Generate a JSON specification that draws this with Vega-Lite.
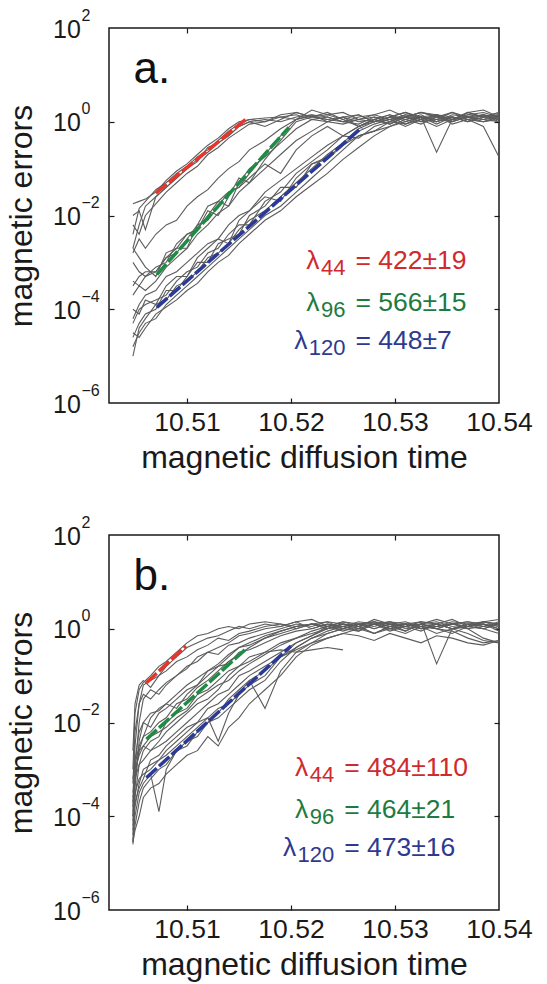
{
"$schema": "https://vega.github.io/schema/vega-lite/v6.json",
"background": "white",
"padding": {"left": 4, "top": 6, "right": 4, "bottom": 4},
"spacing": 132,
"bounds": "flush",
"config": {"font": "Liberation Sans", "view": {"stroke": "#1a1a1a", "strokeWidth": 1.5}, "axis": {"labelColor": "#1a1a1a", "titleColor": "#1a1a1a", "tickColor": "#1a1a1a", "tickWidth": 1.2}},
"datasets": {
"a": [
{"c":"a1","x":10.5048,"y":0.00398},{"c":"a1","x":10.5054,"y":0.0141},{"c":"a1","x":10.506,"y":0.02},{"c":"a1","x":10.507,"y":0.0355},{"c":"a1","x":10.508,"y":0.05},{"c":"a1","x":10.509,"y":0.079},{"c":"a1","x":10.51,"y":0.112},{"c":"a1","x":10.511,"y":0.178},{"c":"a1","x":10.512,"y":0.251},{"c":"a1","x":10.513,"y":0.398},{"c":"a1","x":10.514,"y":0.631},{"c":"a1","x":10.515,"y":0.891},{"c":"a1","x":10.516,"y":1.12},{"c":"a1","x":10.5175,"y":1.2},{"c":"a1","x":10.519,"y":1.26},{"c":"a1","x":10.5205,"y":1.12},{"c":"a1","x":10.522,"y":1.32},{"c":"a1","x":10.5235,"y":1.12},{"c":"a1","x":10.525,"y":1},{"c":"a1","x":10.5265,"y":1.26},{"c":"a1","x":10.528,"y":1.41},{"c":"a1","x":10.5295,"y":1.12},{"c":"a1","x":10.531,"y":1.26},{"c":"a1","x":10.5325,"y":1.58},{"c":"a1","x":10.534,"y":1.32},{"c":"a1","x":10.5355,"y":1.12},{"c":"a1","x":10.537,"y":1.41},{"c":"a1","x":10.5385,"y":1.58},{"c":"a1","x":10.54,"y":1.26},
{"c":"a2","x":10.5048,"y":0.01},{"c":"a2","x":10.5054,"y":0.0126},{"c":"a2","x":10.506,"y":0.005},{"c":"a2","x":10.507,"y":0.0251},{"c":"a2","x":10.508,"y":0.0398},{"c":"a2","x":10.509,"y":0.063},{"c":"a2","x":10.51,"y":0.1},{"c":"a2","x":10.511,"y":0.141},{"c":"a2","x":10.512,"y":0.282},{"c":"a2","x":10.513,"y":0.355},{"c":"a2","x":10.514,"y":0.5},{"c":"a2","x":10.515,"y":0.794},{"c":"a2","x":10.516,"y":1},{"c":"a2","x":10.5175,"y":1.12},{"c":"a2","x":10.519,"y":1},{"c":"a2","x":10.5205,"y":1.26},{"c":"a2","x":10.522,"y":1.41},{"c":"a2","x":10.5235,"y":1},{"c":"a2","x":10.525,"y":0.891},{"c":"a2","x":10.5265,"y":1.12},{"c":"a2","x":10.528,"y":1},{"c":"a2","x":10.5295,"y":1.26},{"c":"a2","x":10.531,"y":1.58},{"c":"a2","x":10.5325,"y":1.26},{"c":"a2","x":10.534,"y":1.41},{"c":"a2","x":10.5355,"y":1},{"c":"a2","x":10.537,"y":1.26},{"c":"a2","x":10.5385,"y":1.12},{"c":"a2","x":10.54,"y":1.41},
{"c":"a3","x":10.5048,"y":0.0178},{"c":"a3","x":10.5054,"y":0.02},{"c":"a3","x":10.506,"y":0.0224},{"c":"a3","x":10.507,"y":0.0316},{"c":"a3","x":10.508,"y":0.056},{"c":"a3","x":10.509,"y":0.089},{"c":"a3","x":10.51,"y":0.126},{"c":"a3","x":10.511,"y":0.2},{"c":"a3","x":10.512,"y":0.316},{"c":"a3","x":10.513,"y":0.447},{"c":"a3","x":10.514,"y":0.708},{"c":"a3","x":10.515,"y":1},{"c":"a3","x":10.516,"y":1.12},{"c":"a3","x":10.5175,"y":1},{"c":"a3","x":10.519,"y":1.26},{"c":"a3","x":10.5205,"y":1.41},{"c":"a3","x":10.522,"y":1.12},{"c":"a3","x":10.5235,"y":1.26},{"c":"a3","x":10.525,"y":1},{"c":"a3","x":10.5265,"y":0.891},{"c":"a3","x":10.528,"y":1.26},{"c":"a3","x":10.5295,"y":1.12},{"c":"a3","x":10.531,"y":0.794},{"c":"a3","x":10.5325,"y":1.12},{"c":"a3","x":10.534,"y":1.41},{"c":"a3","x":10.5355,"y":1.26},{"c":"a3","x":10.537,"y":1},{"c":"a3","x":10.5385,"y":1.26},{"c":"a3","x":10.54,"y":1.58},
{"c":"a4","x":10.5048,"y":0.002},{"c":"a4","x":10.5054,"y":0.0063},{"c":"a4","x":10.506,"y":0.0158},{"c":"a4","x":10.507,"y":0.0251},{"c":"a4","x":10.508,"y":0.0398},{"c":"a4","x":10.509,"y":0.063},{"c":"a4","x":10.51,"y":0.1},{"c":"a4","x":10.511,"y":0.158},{"c":"a4","x":10.512,"y":0.224},{"c":"a4","x":10.513,"y":0.355},{"c":"a4","x":10.514,"y":0.5},{"c":"a4","x":10.515,"y":0.794},{"c":"a4","x":10.516,"y":1},{"c":"a4","x":10.5175,"y":0.794},{"c":"a4","x":10.519,"y":1.12},{"c":"a4","x":10.5205,"y":1.58},{"c":"a4","x":10.522,"y":1.26},{"c":"a4","x":10.5235,"y":1.12},{"c":"a4","x":10.525,"y":1.26},{"c":"a4","x":10.5265,"y":1},{"c":"a4","x":10.528,"y":1.12},{"c":"a4","x":10.5295,"y":1.41},{"c":"a4","x":10.531,"y":1},{"c":"a4","x":10.5325,"y":1.26},{"c":"a4","x":10.534,"y":0.224},{"c":"a4","x":10.5355,"y":1.12},{"c":"a4","x":10.537,"y":1.26},{"c":"a4","x":10.5385,"y":1.41},{"c":"a4","x":10.54,"y":1.12},
{"c":"a5","x":10.5048,"y":3.16e-4},{"c":"a5","x":10.5054,"y":5e-4},{"c":"a5","x":10.506,"y":6.3e-4},{"c":"a5","x":10.507,"y":6.3e-4},{"c":"a5","x":10.508,"y":0.00126},{"c":"a5","x":10.509,"y":0.00158},{"c":"a5","x":10.51,"y":0.00316},{"c":"a5","x":10.511,"y":0.0063},{"c":"a5","x":10.512,"y":0.0079},{"c":"a5","x":10.513,"y":0.0158},{"c":"a5","x":10.514,"y":0.0316},{"c":"a5","x":10.515,"y":0.04},{"c":"a5","x":10.516,"y":0.079},{"c":"a5","x":10.5175,"y":0.2},{"c":"a5","x":10.519,"y":0.5},{"c":"a5","x":10.5205,"y":1.12},{"c":"a5","x":10.522,"y":1.41},{"c":"a5","x":10.5235,"y":1.26},{"c":"a5","x":10.525,"y":1},{"c":"a5","x":10.5265,"y":1.12},{"c":"a5","x":10.528,"y":1.26},{"c":"a5","x":10.5295,"y":1},{"c":"a5","x":10.531,"y":1.41},{"c":"a5","x":10.5325,"y":1.26},{"c":"a5","x":10.534,"y":1.12},{"c":"a5","x":10.5355,"y":1.26},{"c":"a5","x":10.537,"y":1},{"c":"a5","x":10.5385,"y":1.26},{"c":"a5","x":10.54,"y":1.41},
{"c":"a6","x":10.5048,"y":0.001},{"c":"a6","x":10.5054,"y":6.3e-4},{"c":"a6","x":10.506,"y":5e-4},{"c":"a6","x":10.507,"y":7.9e-4},{"c":"a6","x":10.508,"y":0.001},{"c":"a6","x":10.509,"y":0.0025},{"c":"a6","x":10.51,"y":0.004},{"c":"a6","x":10.511,"y":0.005},{"c":"a6","x":10.512,"y":0.0126},{"c":"a6","x":10.513,"y":0.01},{"c":"a6","x":10.514,"y":0.025},{"c":"a6","x":10.515,"y":0.063},{"c":"a6","x":10.516,"y":0.05},{"c":"a6","x":10.5175,"y":0.158},{"c":"a6","x":10.519,"y":0.4},{"c":"a6","x":10.5205,"y":1},{"c":"a6","x":10.522,"y":1.26},{"c":"a6","x":10.5235,"y":1.58},{"c":"a6","x":10.525,"y":1.12},{"c":"a6","x":10.5265,"y":0.794},{"c":"a6","x":10.528,"y":1.12},{"c":"a6","x":10.5295,"y":1.41},{"c":"a6","x":10.531,"y":1.12},{"c":"a6","x":10.5325,"y":0.891},{"c":"a6","x":10.534,"y":1.26},{"c":"a6","x":10.5355,"y":1.58},{"c":"a6","x":10.537,"y":1.26},{"c":"a6","x":10.5385,"y":1},{"c":"a6","x":10.54,"y":1.12},
{"c":"a7","x":10.5048,"y":0.002},{"c":"a7","x":10.5054,"y":0.00126},{"c":"a7","x":10.506,"y":7.9e-4},{"c":"a7","x":10.507,"y":5e-4},{"c":"a7","x":10.508,"y":0.0016},{"c":"a7","x":10.509,"y":0.002},{"c":"a7","x":10.51,"y":0.002},{"c":"a7","x":10.511,"y":0.0063},{"c":"a7","x":10.512,"y":0.0158},{"c":"a7","x":10.513,"y":0.02},{"c":"a7","x":10.514,"y":0.0158},{"c":"a7","x":10.515,"y":0.05},{"c":"a7","x":10.516,"y":0.1},{"c":"a7","x":10.5175,"y":0.178},{"c":"a7","x":10.519,"y":0.355},{"c":"a7","x":10.5205,"y":0.708},{"c":"a7","x":10.522,"y":1.12},{"c":"a7","x":10.5235,"y":1},{"c":"a7","x":10.525,"y":1.26},{"c":"a7","x":10.5265,"y":1.41},{"c":"a7","x":10.528,"y":1},{"c":"a7","x":10.5295,"y":1.12},{"c":"a7","x":10.531,"y":1.26},{"c":"a7","x":10.5325,"y":1.58},{"c":"a7","x":10.534,"y":1.41},{"c":"a7","x":10.5355,"y":1.12},{"c":"a7","x":10.537,"y":1.26},{"c":"a7","x":10.5385,"y":1.41},{"c":"a7","x":10.54,"y":1},
{"c":"a8","x":10.5048,"y":3.98e-4},{"c":"a8","x":10.5054,"y":3.16e-4},{"c":"a8","x":10.506,"y":5e-4},{"c":"a8","x":10.507,"y":6.3e-4},{"c":"a8","x":10.508,"y":0.00126},{"c":"a8","x":10.509,"y":0.002},{"c":"a8","x":10.51,"y":0.00398},{"c":"a8","x":10.511,"y":0.005},{"c":"a8","x":10.512,"y":0.01},{"c":"a8","x":10.513,"y":0.02},{"c":"a8","x":10.514,"y":0.0316},{"c":"a8","x":10.515,"y":0.0398},{"c":"a8","x":10.516,"y":0.063},{"c":"a8","x":10.5175,"y":0.126},{"c":"a8","x":10.519,"y":0.079},{"c":"a8","x":10.5205,"y":0.251},{"c":"a8","x":10.522,"y":0.5},{"c":"a8","x":10.5235,"y":0.794},{"c":"a8","x":10.525,"y":0.5},{"c":"a8","x":10.5265,"y":0.794},{"c":"a8","x":10.528,"y":1.12},{"c":"a8","x":10.5295,"y":0.891},{"c":"a8","x":10.531,"y":1.26},{"c":"a8","x":10.5325,"y":1.12},{"c":"a8","x":10.534,"y":1},{"c":"a8","x":10.5355,"y":1.26},{"c":"a8","x":10.537,"y":1.12},{"c":"a8","x":10.5385,"y":0.794},{"c":"a8","x":10.54,"y":0.178},
{"c":"a9","x":10.5048,"y":1e-5},{"c":"a9","x":10.5054,"y":3.98e-5},{"c":"a9","x":10.506,"y":6.3e-5},{"c":"a9","x":10.507,"y":1.26e-4},{"c":"a9","x":10.508,"y":1.58e-4},{"c":"a9","x":10.509,"y":3.16e-4},{"c":"a9","x":10.51,"y":3.98e-4},{"c":"a9","x":10.511,"y":6.3e-4},{"c":"a9","x":10.512,"y":0.00126},{"c":"a9","x":10.513,"y":0.00158},{"c":"a9","x":10.514,"y":0.00251},{"c":"a9","x":10.515,"y":0.005},{"c":"a9","x":10.516,"y":0.0079},{"c":"a9","x":10.5175,"y":0.0126},{"c":"a9","x":10.519,"y":0.0251},{"c":"a9","x":10.5205,"y":0.05},{"c":"a9","x":10.522,"y":0.1},{"c":"a9","x":10.5235,"y":0.2},{"c":"a9","x":10.525,"y":0.355},{"c":"a9","x":10.5265,"y":0.708},{"c":"a9","x":10.528,"y":1},{"c":"a9","x":10.5295,"y":1.26},{"c":"a9","x":10.531,"y":1.12},{"c":"a9","x":10.5325,"y":1.41},{"c":"a9","x":10.534,"y":1},{"c":"a9","x":10.5355,"y":1.26},{"c":"a9","x":10.537,"y":1.12},{"c":"a9","x":10.5385,"y":1.41},{"c":"a9","x":10.54,"y":1.26},
{"c":"a10","x":10.5048,"y":2.51e-5},{"c":"a10","x":10.5054,"y":5e-5},{"c":"a10","x":10.506,"y":7.9e-5},{"c":"a10","x":10.507,"y":1e-4},{"c":"a10","x":10.508,"y":2.51e-4},{"c":"a10","x":10.509,"y":2.51e-4},{"c":"a10","x":10.51,"y":5e-4},{"c":"a10","x":10.511,"y":0.001},{"c":"a10","x":10.512,"y":0.001},{"c":"a10","x":10.513,"y":0.00251},{"c":"a10","x":10.514,"y":0.00316},{"c":"a10","x":10.515,"y":0.00398},{"c":"a10","x":10.516,"y":0.01},{"c":"a10","x":10.5175,"y":0.0158},{"c":"a10","x":10.519,"y":0.0398},{"c":"a10","x":10.5205,"y":0.0398},{"c":"a10","x":10.522,"y":0.126},{"c":"a10","x":10.5235,"y":0.158},{"c":"a10","x":10.525,"y":0.316},{"c":"a10","x":10.5265,"y":0.631},{"c":"a10","x":10.528,"y":0.891},{"c":"a10","x":10.5295,"y":1.12},{"c":"a10","x":10.531,"y":1.41},{"c":"a10","x":10.5325,"y":1.12},{"c":"a10","x":10.534,"y":0.794},{"c":"a10","x":10.5355,"y":1.12},{"c":"a10","x":10.537,"y":1.41},{"c":"a10","x":10.5385,"y":1.26},{"c":"a10","x":10.54,"y":1.58},
{"c":"a11","x":10.5048,"y":5e-5},{"c":"a11","x":10.5054,"y":1e-4},{"c":"a11","x":10.506,"y":1.26e-4},{"c":"a11","x":10.507,"y":1.58e-4},{"c":"a11","x":10.508,"y":2e-4},{"c":"a11","x":10.509,"y":3.98e-4},{"c":"a11","x":10.51,"y":6.3e-4},{"c":"a11","x":10.511,"y":7.9e-4},{"c":"a11","x":10.512,"y":0.00158},{"c":"a11","x":10.513,"y":0.002},{"c":"a11","x":10.514,"y":0.00398},{"c":"a11","x":10.515,"y":0.0063},{"c":"a11","x":10.516,"y":0.0063},{"c":"a11","x":10.5175,"y":0.02},{"c":"a11","x":10.519,"y":0.0316},{"c":"a11","x":10.5205,"y":0.079},{"c":"a11","x":10.522,"y":0.141},{"c":"a11","x":10.5235,"y":0.251},{"c":"a11","x":10.525,"y":0.5},{"c":"a11","x":10.5265,"y":0.447},{"c":"a11","x":10.528,"y":0.794},{"c":"a11","x":10.5295,"y":1},{"c":"a11","x":10.531,"y":1.26},{"c":"a11","x":10.5325,"y":1},{"c":"a11","x":10.534,"y":1.12},{"c":"a11","x":10.5355,"y":1.58},{"c":"a11","x":10.537,"y":1.12},{"c":"a11","x":10.5385,"y":1},{"c":"a11","x":10.54,"y":1.26},
{"c":"a12","x":10.5048,"y":1e-4},{"c":"a12","x":10.5054,"y":7.9e-5},{"c":"a12","x":10.506,"y":1.58e-4},{"c":"a12","x":10.507,"y":1.26e-4},{"c":"a12","x":10.508,"y":3.16e-4},{"c":"a12","x":10.509,"y":5e-4},{"c":"a12","x":10.51,"y":5e-4},{"c":"a12","x":10.511,"y":0.00126},{"c":"a12","x":10.512,"y":0.002},{"c":"a12","x":10.513,"y":0.00316},{"c":"a12","x":10.514,"y":0.00251},{"c":"a12","x":10.515,"y":0.0079},{"c":"a12","x":10.516,"y":0.0126},{"c":"a12","x":10.5175,"y":0.0251},{"c":"a12","x":10.519,"y":0.02},{"c":"a12","x":10.5205,"y":0.063},{"c":"a12","x":10.522,"y":0.126},{"c":"a12","x":10.5235,"y":0.178},{"c":"a12","x":10.525,"y":0.316},{"c":"a12","x":10.5265,"y":0.5},{"c":"a12","x":10.528,"y":0.631},{"c":"a12","x":10.5295,"y":0.794},{"c":"a12","x":10.531,"y":1.12},{"c":"a12","x":10.5325,"y":1.26},{"c":"a12","x":10.534,"y":1},{"c":"a12","x":10.5355,"y":1.41},{"c":"a12","x":10.537,"y":1.26},{"c":"a12","x":10.5385,"y":1.12},{"c":"a12","x":10.54,"y":1},
{"c":"a13","x":10.5048,"y":1.58e-5},{"c":"a13","x":10.5054,"y":3.16e-5},{"c":"a13","x":10.506,"y":5e-5},{"c":"a13","x":10.507,"y":6.3e-5},{"c":"a13","x":10.508,"y":1.26e-4},{"c":"a13","x":10.509,"y":2e-4},{"c":"a13","x":10.51,"y":3.16e-4},{"c":"a13","x":10.511,"y":5e-4},{"c":"a13","x":10.512,"y":7.9e-4},{"c":"a13","x":10.513,"y":0.00126},{"c":"a13","x":10.514,"y":0.002},{"c":"a13","x":10.515,"y":0.00316},{"c":"a13","x":10.516,"y":0.005},{"c":"a13","x":10.5175,"y":0.01},{"c":"a13","x":10.519,"y":0.0158},{"c":"a13","x":10.5205,"y":0.0316},{"c":"a13","x":10.522,"y":0.063},{"c":"a13","x":10.5235,"y":0.126},{"c":"a13","x":10.525,"y":0.251},{"c":"a13","x":10.5265,"y":0.5},{"c":"a13","x":10.528,"y":0.631},{"c":"a13","x":10.5295,"y":1},{"c":"a13","x":10.531,"y":0.891},{"c":"a13","x":10.5325,"y":1.26},{"c":"a13","x":10.534,"y":1.12},{"c":"a13","x":10.5355,"y":1},{"c":"a13","x":10.537,"y":1.26},{"c":"a13","x":10.5385,"y":1.12},{"c":"a13","x":10.54,"y":1.26},
{"c":"a14","x":10.5048,"y":0.0063},{"c":"a14","x":10.5054,"y":0.00398},{"c":"a14","x":10.506,"y":0.01},{"c":"a14","x":10.507,"y":0.0178},{"c":"a14","x":10.508,"y":0.0316},{"c":"a14","x":10.509,"y":0.05},{"c":"a14","x":10.51,"y":0.079},{"c":"a14","x":10.511,"y":0.112},{"c":"a14","x":10.512,"y":0.2},{"c":"a14","x":10.513,"y":0.282},{"c":"a14","x":10.514,"y":0.447},{"c":"a14","x":10.515,"y":0.631},{"c":"a14","x":10.516,"y":0.891},{"c":"a14","x":10.5175,"y":1},{"c":"a14","x":10.519,"y":1.41},{"c":"a14","x":10.5205,"y":1.58},{"c":"a14","x":10.522,"y":1.26},{"c":"a14","x":10.5235,"y":1.41},{"c":"a14","x":10.525,"y":1.12},{"c":"a14","x":10.5265,"y":1.41},{"c":"a14","x":10.528,"y":1},{"c":"a14","x":10.5295,"y":1.26},{"c":"a14","x":10.531,"y":1.58},{"c":"a14","x":10.5325,"y":1.12},{"c":"a14","x":10.534,"y":1.26},{"c":"a14","x":10.5355,"y":1},{"c":"a14","x":10.537,"y":1.58},{"c":"a14","x":10.5385,"y":1.26},{"c":"a14","x":10.54,"y":1.41},
{"c":"a15","x":10.5048,"y":0.00158},{"c":"a15","x":10.5054,"y":0.00316},{"c":"a15","x":10.506,"y":0.002},{"c":"a15","x":10.507,"y":0.00398},{"c":"a15","x":10.508,"y":0.0063},{"c":"a15","x":10.509,"y":0.0079},{"c":"a15","x":10.51,"y":0.0158},{"c":"a15","x":10.511,"y":0.0251},{"c":"a15","x":10.512,"y":0.0355},{"c":"a15","x":10.513,"y":0.063},{"c":"a15","x":10.514,"y":0.1},{"c":"a15","x":10.515,"y":0.141},{"c":"a15","x":10.516,"y":0.251},{"c":"a15","x":10.5175,"y":0.398},{"c":"a15","x":10.519,"y":0.708},{"c":"a15","x":10.5205,"y":1.12},{"c":"a15","x":10.522,"y":1.78},{"c":"a15","x":10.5235,"y":1.41},{"c":"a15","x":10.525,"y":1.58},{"c":"a15","x":10.5265,"y":1.12},{"c":"a15","x":10.528,"y":1.41},{"c":"a15","x":10.5295,"y":1.78},{"c":"a15","x":10.531,"y":1.26},{"c":"a15","x":10.5325,"y":1},{"c":"a15","x":10.534,"y":1.41},{"c":"a15","x":10.5355,"y":1.12},{"c":"a15","x":10.537,"y":1.58},{"c":"a15","x":10.5385,"y":1.78},{"c":"a15","x":10.54,"y":1.26},
{"c":"a16","x":10.5048,"y":2e-4},{"c":"a16","x":10.5054,"y":3.16e-4},{"c":"a16","x":10.506,"y":2.51e-4},{"c":"a16","x":10.507,"y":3.98e-4},{"c":"a16","x":10.508,"y":7.9e-4},{"c":"a16","x":10.509,"y":0.00126},{"c":"a16","x":10.51,"y":0.002},{"c":"a16","x":10.511,"y":0.00398},{"c":"a16","x":10.512,"y":0.0063},{"c":"a16","x":10.513,"y":0.0112},{"c":"a16","x":10.514,"y":0.0158},{"c":"a16","x":10.515,"y":0.0316},{"c":"a16","x":10.516,"y":0.05},{"c":"a16","x":10.5175,"y":0.1},{"c":"a16","x":10.519,"y":0.2},{"c":"a16","x":10.5205,"y":0.398},{"c":"a16","x":10.522,"y":0.631},{"c":"a16","x":10.5235,"y":1},{"c":"a16","x":10.525,"y":1.26},{"c":"a16","x":10.5265,"y":0.794},{"c":"a16","x":10.528,"y":1},{"c":"a16","x":10.5295,"y":1.26},{"c":"a16","x":10.531,"y":0.891},{"c":"a16","x":10.5325,"y":1.12},{"c":"a16","x":10.534,"y":1.41},{"c":"a16","x":10.5355,"y":0.891},{"c":"a16","x":10.537,"y":1.12},{"c":"a16","x":10.5385,"y":1},{"c":"a16","x":10.54,"y":1.26},
{"c":"a17","x":10.5048,"y":6.3e-5},{"c":"a17","x":10.5054,"y":1.26e-4},{"c":"a17","x":10.506,"y":2e-4},{"c":"a17","x":10.507,"y":2.51e-4},{"c":"a17","x":10.508,"y":5e-4},{"c":"a17","x":10.509,"y":6.3e-4},{"c":"a17","x":10.51,"y":0.001},{"c":"a17","x":10.511,"y":0.00158},{"c":"a17","x":10.512,"y":0.00251},{"c":"a17","x":10.513,"y":0.00316},{"c":"a17","x":10.514,"y":0.0063},{"c":"a17","x":10.515,"y":0.01},{"c":"a17","x":10.516,"y":0.0126},{"c":"a17","x":10.5175,"y":0.0316},{"c":"a17","x":10.519,"y":0.056},{"c":"a17","x":10.5205,"y":0.1},{"c":"a17","x":10.522,"y":0.178},{"c":"a17","x":10.5235,"y":0.316},{"c":"a17","x":10.525,"y":0.5},{"c":"a17","x":10.5265,"y":0.794},{"c":"a17","x":10.528,"y":1.12},{"c":"a17","x":10.5295,"y":0.891},{"c":"a17","x":10.531,"y":1.26},{"c":"a17","x":10.5325,"y":1.58},{"c":"a17","x":10.534,"y":1.26},{"c":"a17","x":10.5355,"y":1.12},{"c":"a17","x":10.537,"y":1.58},{"c":"a17","x":10.5385,"y":1.26},{"c":"a17","x":10.54,"y":1.12},
{"c":"a18","x":10.5048,"y":3.16e-5},{"c":"a18","x":10.5054,"y":2.51e-5},{"c":"a18","x":10.506,"y":3.98e-5},{"c":"a18","x":10.507,"y":7.9e-5},{"c":"a18","x":10.508,"y":1.12e-4},{"c":"a18","x":10.509,"y":1.58e-4},{"c":"a18","x":10.51,"y":2.51e-4},{"c":"a18","x":10.511,"y":3.55e-4},{"c":"a18","x":10.512,"y":6.3e-4},{"c":"a18","x":10.513,"y":0.001},{"c":"a18","x":10.514,"y":0.00141},{"c":"a18","x":10.515,"y":0.00251},{"c":"a18","x":10.516,"y":0.00398},{"c":"a18","x":10.5175,"y":0.0079},{"c":"a18","x":10.519,"y":0.0126},{"c":"a18","x":10.5205,"y":0.0251},{"c":"a18","x":10.522,"y":0.0447},{"c":"a18","x":10.5235,"y":0.079},{"c":"a18","x":10.525,"y":0.158},{"c":"a18","x":10.5265,"y":0.282},{"c":"a18","x":10.528,"y":0.5},{"c":"a18","x":10.5295,"y":0.794},{"c":"a18","x":10.531,"y":1},{"c":"a18","x":10.5325,"y":1.26},{"c":"a18","x":10.534,"y":0.891},{"c":"a18","x":10.5355,"y":1.26},{"c":"a18","x":10.537,"y":1},{"c":"a18","x":10.5385,"y":1.41},{"c":"a18","x":10.54,"y":1.12}
],
"b": [
{"c":"b1","x":10.5048,"y":0.001},{"c":"b1","x":10.505,"y":0.0158},{"c":"b1","x":10.5054,"y":0.05},{"c":"b1","x":10.5058,"y":0.071},{"c":"b1","x":10.5065,"y":0.1},{"c":"b1","x":10.5073,"y":0.158},{"c":"b1","x":10.508,"y":0.2},{"c":"b1","x":10.509,"y":0.316},{"c":"b1","x":10.51,"y":0.5},{"c":"b1","x":10.511,"y":0.708},{"c":"b1","x":10.512,"y":0.794},{"c":"b1","x":10.513,"y":1},{"c":"b1","x":10.514,"y":1.12},{"c":"b1","x":10.515,"y":1},{"c":"b1","x":10.516,"y":1.26},{"c":"b1","x":10.5175,"y":1.41},{"c":"b1","x":10.519,"y":1.26},{"c":"b1","x":10.5205,"y":1.12},{"c":"b1","x":10.522,"y":1.26},{"c":"b1","x":10.5235,"y":1.41},{"c":"b1","x":10.525,"y":1},{"c":"b1","x":10.5265,"y":1.26},{"c":"b1","x":10.528,"y":1.12},{"c":"b1","x":10.5295,"y":1.41},{"c":"b1","x":10.531,"y":1.26},{"c":"b1","x":10.5325,"y":1},{"c":"b1","x":10.534,"y":1.12},{"c":"b1","x":10.5355,"y":1.26},{"c":"b1","x":10.537,"y":1.41},{"c":"b1","x":10.5385,"y":1.12},{"c":"b1","x":10.54,"y":1.26},
{"c":"b2","x":10.5048,"y":1.58e-4},{"c":"b2","x":10.505,"y":0.00316},{"c":"b2","x":10.5054,"y":0.0251},{"c":"b2","x":10.5058,"y":0.063},{"c":"b2","x":10.5065,"y":0.079},{"c":"b2","x":10.5073,"y":0.1},{"c":"b2","x":10.508,"y":0.158},{"c":"b2","x":10.509,"y":0.251},{"c":"b2","x":10.51,"y":0.398},{"c":"b2","x":10.511,"y":0.5},{"c":"b2","x":10.512,"y":0.631},{"c":"b2","x":10.513,"y":0.708},{"c":"b2","x":10.514,"y":0.891},{"c":"b2","x":10.515,"y":1.12},{"c":"b2","x":10.516,"y":1},{"c":"b2","x":10.5175,"y":1.26},{"c":"b2","x":10.519,"y":1.12},{"c":"b2","x":10.5205,"y":1.41},{"c":"b2","x":10.522,"y":1.58},{"c":"b2","x":10.5235,"y":1.12},{"c":"b2","x":10.525,"y":1.26},{"c":"b2","x":10.5265,"y":1},{"c":"b2","x":10.528,"y":1.26},{"c":"b2","x":10.5295,"y":1.41},{"c":"b2","x":10.531,"y":1.12},{"c":"b2","x":10.5325,"y":1.26},{"c":"b2","x":10.534,"y":1.58},{"c":"b2","x":10.5355,"y":1.26},{"c":"b2","x":10.537,"y":1.12},{"c":"b2","x":10.5385,"y":1.41},{"c":"b2","x":10.54,"y":1.58},
{"c":"b3","x":10.5048,"y":0.00251},{"c":"b3","x":10.505,"y":0.0251},{"c":"b3","x":10.5054,"y":0.063},{"c":"b3","x":10.5058,"y":0.079},{"c":"b3","x":10.5065,"y":0.056},{"c":"b3","x":10.5073,"y":0.1},{"c":"b3","x":10.508,"y":0.126},{"c":"b3","x":10.509,"y":0.2},{"c":"b3","x":10.51,"y":0.251},{"c":"b3","x":10.511,"y":0.355},{"c":"b3","x":10.512,"y":0.447},{"c":"b3","x":10.513,"y":0.631},{"c":"b3","x":10.514,"y":0.562},{"c":"b3","x":10.515,"y":0.794},{"c":"b3","x":10.516,"y":0.891},{"c":"b3","x":10.5175,"y":1.12},{"c":"b3","x":10.519,"y":1.26},{"c":"b3","x":10.5205,"y":1},{"c":"b3","x":10.522,"y":1.26},{"c":"b3","x":10.5235,"y":1.12},{"c":"b3","x":10.525,"y":0.891},{"c":"b3","x":10.5265,"y":1.12},{"c":"b3","x":10.528,"y":1.26},{"c":"b3","x":10.5295,"y":1},{"c":"b3","x":10.531,"y":0.794},{"c":"b3","x":10.5325,"y":1.12},{"c":"b3","x":10.534,"y":1.26},{"c":"b3","x":10.5355,"y":1},{"c":"b3","x":10.537,"y":1.12},{"c":"b3","x":10.5385,"y":1.26},{"c":"b3","x":10.54,"y":0.891},
{"c":"b4","x":10.5048,"y":6.3e-5},{"c":"b4","x":10.505,"y":0.001},{"c":"b4","x":10.5054,"y":0.01},{"c":"b4","x":10.5058,"y":0.0316},{"c":"b4","x":10.5065,"y":0.05},{"c":"b4","x":10.5073,"y":0.0398},{"c":"b4","x":10.508,"y":0.063},{"c":"b4","x":10.509,"y":0.1},{"c":"b4","x":10.51,"y":0.158},{"c":"b4","x":10.511,"y":0.2},{"c":"b4","x":10.512,"y":0.316},{"c":"b4","x":10.513,"y":0.282},{"c":"b4","x":10.514,"y":0.447},{"c":"b4","x":10.515,"y":0.5},{"c":"b4","x":10.516,"y":0.631},{"c":"b4","x":10.5175,"y":0.794},{"c":"b4","x":10.519,"y":1},{"c":"b4","x":10.5205,"y":1.26},{"c":"b4","x":10.522,"y":1.12},{"c":"b4","x":10.5235,"y":1.41},{"c":"b4","x":10.525,"y":1.26},{"c":"b4","x":10.5265,"y":1.12},{"c":"b4","x":10.528,"y":0.794},{"c":"b4","x":10.5295,"y":1.12},{"c":"b4","x":10.531,"y":1.26},{"c":"b4","x":10.5325,"y":1.41},{"c":"b4","x":10.534,"y":0.178},{"c":"b4","x":10.5355,"y":1},{"c":"b4","x":10.537,"y":1.26},{"c":"b4","x":10.5385,"y":1.12},{"c":"b4","x":10.54,"y":1.26},
{"c":"b5","x":10.5048,"y":1e-4},{"c":"b5","x":10.505,"y":6.3e-4},{"c":"b5","x":10.5054,"y":0.00251},{"c":"b5","x":10.5058,"y":0.005},{"c":"b5","x":10.5065,"y":0.0063},{"c":"b5","x":10.5073,"y":0.01},{"c":"b5","x":10.508,"y":0.0126},{"c":"b5","x":10.509,"y":0.0251},{"c":"b5","x":10.51,"y":0.0316},{"c":"b5","x":10.511,"y":0.056},{"c":"b5","x":10.512,"y":0.079},{"c":"b5","x":10.513,"y":0.126},{"c":"b5","x":10.514,"y":0.2},{"c":"b5","x":10.515,"y":0.282},{"c":"b5","x":10.516,"y":0.398},{"c":"b5","x":10.5175,"y":0.631},{"c":"b5","x":10.519,"y":0.794},{"c":"b5","x":10.5205,"y":1},{"c":"b5","x":10.522,"y":1.26},{"c":"b5","x":10.5235,"y":1.12},{"c":"b5","x":10.525,"y":1.41},{"c":"b5","x":10.5265,"y":1.26},{"c":"b5","x":10.528,"y":1},{"c":"b5","x":10.5295,"y":1.26},{"c":"b5","x":10.531,"y":1.12},{"c":"b5","x":10.5325,"y":1.41},{"c":"b5","x":10.534,"y":1.26},{"c":"b5","x":10.5355,"y":1},{"c":"b5","x":10.537,"y":1.12},{"c":"b5","x":10.5385,"y":1.41},{"c":"b5","x":10.54,"y":1.26},
{"c":"b6","x":10.5048,"y":3.16e-4},{"c":"b6","x":10.505,"y":0.00158},{"c":"b6","x":10.5054,"y":0.0063},{"c":"b6","x":10.5058,"y":0.01},{"c":"b6","x":10.5065,"y":0.0079},{"c":"b6","x":10.5073,"y":0.0158},{"c":"b6","x":10.508,"y":0.02},{"c":"b6","x":10.509,"y":0.0316},{"c":"b6","x":10.51,"y":0.05},{"c":"b6","x":10.511,"y":0.063},{"c":"b6","x":10.512,"y":0.1},{"c":"b6","x":10.513,"y":0.158},{"c":"b6","x":10.514,"y":0.178},{"c":"b6","x":10.515,"y":0.316},{"c":"b6","x":10.516,"y":0.355},{"c":"b6","x":10.5175,"y":0.5},{"c":"b6","x":10.519,"y":0.708},{"c":"b6","x":10.5205,"y":0.891},{"c":"b6","x":10.522,"y":1},{"c":"b6","x":10.5235,"y":1.26},{"c":"b6","x":10.525,"y":1.12},{"c":"b6","x":10.5265,"y":1},{"c":"b6","x":10.528,"y":0.794},{"c":"b6","x":10.5295,"y":1.12},{"c":"b6","x":10.531,"y":1.26},{"c":"b6","x":10.5325,"y":1},{"c":"b6","x":10.534,"y":1.12},{"c":"b6","x":10.5355,"y":1.41},{"c":"b6","x":10.537,"y":1.26},{"c":"b6","x":10.5385,"y":1},{"c":"b6","x":10.54,"y":1.26},
{"c":"b7","x":10.5048,"y":2.51e-5},{"c":"b7","x":10.505,"y":2.51e-4},{"c":"b7","x":10.5054,"y":0.00126},{"c":"b7","x":10.5058,"y":0.00251},{"c":"b7","x":10.5065,"y":0.00398},{"c":"b7","x":10.5073,"y":0.005},{"c":"b7","x":10.508,"y":0.01},{"c":"b7","x":10.509,"y":0.0158},{"c":"b7","x":10.51,"y":0.02},{"c":"b7","x":10.511,"y":0.0398},{"c":"b7","x":10.512,"y":0.05},{"c":"b7","x":10.513,"y":0.079},{"c":"b7","x":10.514,"y":0.126},{"c":"b7","x":10.515,"y":0.158},{"c":"b7","x":10.516,"y":0.251},{"c":"b7","x":10.5175,"y":0.316},{"c":"b7","x":10.519,"y":0.355},{"c":"b7","x":10.5205,"y":0.316},{"c":"b7","x":10.522,"y":0.355},{"c":"b7","x":10.5235,"y":0.398},{"c":"b7","x":10.525,"y":0.355},
{"c":"b8","x":10.5048,"y":6.3e-4},{"c":"b8","x":10.505,"y":0.00126},{"c":"b8","x":10.5054,"y":0.00316},{"c":"b8","x":10.5058,"y":0.005},{"c":"b8","x":10.5065,"y":0.0126},{"c":"b8","x":10.5073,"y":0.02},{"c":"b8","x":10.508,"y":0.0251},{"c":"b8","x":10.509,"y":0.02},{"c":"b8","x":10.51,"y":0.0398},{"c":"b8","x":10.511,"y":0.063},{"c":"b8","x":10.512,"y":0.126},{"c":"b8","x":10.513,"y":0.158},{"c":"b8","x":10.514,"y":0.251},{"c":"b8","x":10.515,"y":0.398},{"c":"b8","x":10.516,"y":0.447},{"c":"b8","x":10.5175,"y":0.631},{"c":"b8","x":10.519,"y":0.891},{"c":"b8","x":10.5205,"y":1.12},{"c":"b8","x":10.522,"y":1.26},{"c":"b8","x":10.5235,"y":1},{"c":"b8","x":10.525,"y":1.12},{"c":"b8","x":10.5265,"y":1.41},{"c":"b8","x":10.528,"y":1.26},{"c":"b8","x":10.5295,"y":1.12},{"c":"b8","x":10.531,"y":0.891},{"c":"b8","x":10.5325,"y":1.26},{"c":"b8","x":10.534,"y":1.41},{"c":"b8","x":10.5355,"y":1.12},{"c":"b8","x":10.537,"y":1},{"c":"b8","x":10.5385,"y":0.631},{"c":"b8","x":10.54,"y":0.5},
{"c":"b9","x":10.5048,"y":1.26e-4},{"c":"b9","x":10.505,"y":0.001},{"c":"b9","x":10.5054,"y":0.002},{"c":"b9","x":10.5058,"y":0.00316},{"c":"b9","x":10.5065,"y":0.00251},{"c":"b9","x":10.5073,"y":0.00398},{"c":"b9","x":10.508,"y":0.0063},{"c":"b9","x":10.509,"y":0.01},{"c":"b9","x":10.51,"y":0.0158},{"c":"b9","x":10.511,"y":0.0251},{"c":"b9","x":10.512,"y":0.0316},{"c":"b9","x":10.513,"y":0.05},{"c":"b9","x":10.514,"y":0.1},{"c":"b9","x":10.515,"y":0.158},{"c":"b9","x":10.516,"y":0.2},{"c":"b9","x":10.5175,"y":0.316},{"c":"b9","x":10.519,"y":0.5},{"c":"b9","x":10.5205,"y":0.631},{"c":"b9","x":10.522,"y":0.794},{"c":"b9","x":10.5235,"y":1},{"c":"b9","x":10.525,"y":1.26},{"c":"b9","x":10.5265,"y":1.12},{"c":"b9","x":10.528,"y":0.794},{"c":"b9","x":10.5295,"y":1},{"c":"b9","x":10.531,"y":1.26},{"c":"b9","x":10.5325,"y":1.12},{"c":"b9","x":10.534,"y":1},{"c":"b9","x":10.5355,"y":0.891},{"c":"b9","x":10.537,"y":0.631},{"c":"b9","x":10.5385,"y":0.5},{"c":"b9","x":10.54,"y":0.562},
{"c":"b10","x":10.5048,"y":3.16e-5},{"c":"b10","x":10.505,"y":1e-4},{"c":"b10","x":10.5054,"y":3.16e-4},{"c":"b10","x":10.5058,"y":5e-4},{"c":"b10","x":10.5065,"y":7.9e-4},{"c":"b10","x":10.5073,"y":1.26e-4},{"c":"b10","x":10.508,"y":0.001},{"c":"b10","x":10.509,"y":0.00251},{"c":"b10","x":10.51,"y":0.00398},{"c":"b10","x":10.511,"y":0.005},{"c":"b10","x":10.512,"y":0.01},{"c":"b10","x":10.513,"y":0.0126},{"c":"b10","x":10.514,"y":0.02},{"c":"b10","x":10.515,"y":0.0316},{"c":"b10","x":10.516,"y":0.05},{"c":"b10","x":10.5175,"y":0.079},{"c":"b10","x":10.519,"y":0.2},{"c":"b10","x":10.5205,"y":0.398},{"c":"b10","x":10.522,"y":0.631},{"c":"b10","x":10.5235,"y":0.891},{"c":"b10","x":10.525,"y":1.12},{"c":"b10","x":10.5265,"y":1.26},{"c":"b10","x":10.528,"y":1},{"c":"b10","x":10.5295,"y":1.26},{"c":"b10","x":10.531,"y":1.41},{"c":"b10","x":10.5325,"y":1.12},{"c":"b10","x":10.534,"y":1},{"c":"b10","x":10.5355,"y":1.26},{"c":"b10","x":10.537,"y":1.12},{"c":"b10","x":10.5385,"y":1.41},{"c":"b10","x":10.54,"y":1.26},
{"c":"b11","x":10.5048,"y":5e-5},{"c":"b11","x":10.505,"y":1.58e-4},{"c":"b11","x":10.5054,"y":5e-4},{"c":"b11","x":10.5058,"y":0.001},{"c":"b11","x":10.5065,"y":0.00126},{"c":"b11","x":10.5073,"y":0.00158},{"c":"b11","x":10.508,"y":0.00251},{"c":"b11","x":10.509,"y":0.00398},{"c":"b11","x":10.51,"y":0.0063},{"c":"b11","x":10.511,"y":0.01},{"c":"b11","x":10.512,"y":0.0126},{"c":"b11","x":10.513,"y":0.00398},{"c":"b11","x":10.514,"y":0.0158},{"c":"b11","x":10.515,"y":0.0398},{"c":"b11","x":10.516,"y":0.063},{"c":"b11","x":10.5175,"y":0.1},{"c":"b11","x":10.519,"y":0.251},{"c":"b11","x":10.5205,"y":0.5},{"c":"b11","x":10.522,"y":0.708},{"c":"b11","x":10.5235,"y":1},{"c":"b11","x":10.525,"y":1.26},{"c":"b11","x":10.5265,"y":1.12},{"c":"b11","x":10.528,"y":1.26},{"c":"b11","x":10.5295,"y":1},{"c":"b11","x":10.531,"y":1.12},{"c":"b11","x":10.5325,"y":1.26},{"c":"b11","x":10.534,"y":1},{"c":"b11","x":10.5355,"y":0.794},{"c":"b11","x":10.537,"y":1.12},{"c":"b11","x":10.5385,"y":1},{"c":"b11","x":10.54,"y":0.794},
{"c":"b12","x":10.5048,"y":1e-4},{"c":"b12","x":10.505,"y":3.16e-4},{"c":"b12","x":10.5054,"y":6.3e-4},{"c":"b12","x":10.5058,"y":7.9e-4},{"c":"b12","x":10.5065,"y":0.001},{"c":"b12","x":10.5073,"y":0.00158},{"c":"b12","x":10.508,"y":0.002},{"c":"b12","x":10.509,"y":0.00316},{"c":"b12","x":10.51,"y":0.005},{"c":"b12","x":10.511,"y":0.0079},{"c":"b12","x":10.512,"y":0.0126},{"c":"b12","x":10.513,"y":0.02},{"c":"b12","x":10.514,"y":0.0251},{"c":"b12","x":10.515,"y":0.0398},{"c":"b12","x":10.516,"y":0.079},{"c":"b12","x":10.5175,"y":0.02},{"c":"b12","x":10.519,"y":0.126},{"c":"b12","x":10.5205,"y":0.316},{"c":"b12","x":10.522,"y":0.5},{"c":"b12","x":10.5235,"y":0.794},{"c":"b12","x":10.525,"y":1},{"c":"b12","x":10.5265,"y":1.26},{"c":"b12","x":10.528,"y":1.41},{"c":"b12","x":10.5295,"y":1.12},{"c":"b12","x":10.531,"y":1.26},{"c":"b12","x":10.5325,"y":1},{"c":"b12","x":10.534,"y":1.12},{"c":"b12","x":10.5355,"y":1.26},{"c":"b12","x":10.537,"y":1.41},{"c":"b12","x":10.5385,"y":1.26},{"c":"b12","x":10.54,"y":1.12},
{"c":"b13","x":10.5048,"y":2.8e-5},{"c":"b13","x":10.505,"y":6.3e-5},{"c":"b13","x":10.5054,"y":2e-4},{"c":"b13","x":10.5058,"y":3.98e-4},{"c":"b13","x":10.5065,"y":6.3e-4},{"c":"b13","x":10.5073,"y":0.001},{"c":"b13","x":10.508,"y":0.00126},{"c":"b13","x":10.509,"y":0.00251},{"c":"b13","x":10.51,"y":0.00316},{"c":"b13","x":10.511,"y":0.0063},{"c":"b13","x":10.512,"y":0.01},{"c":"b13","x":10.513,"y":0.0158},{"c":"b13","x":10.514,"y":0.0316},{"c":"b13","x":10.515,"y":0.05},{"c":"b13","x":10.516,"y":0.079},{"c":"b13","x":10.5175,"y":0.126},{"c":"b13","x":10.519,"y":0.251},{"c":"b13","x":10.5205,"y":0.398},{"c":"b13","x":10.522,"y":0.631},{"c":"b13","x":10.5235,"y":0.794},{"c":"b13","x":10.525,"y":1},{"c":"b13","x":10.5265,"y":0.891},{"c":"b13","x":10.528,"y":1.26},{"c":"b13","x":10.5295,"y":1},{"c":"b13","x":10.531,"y":1.12},{"c":"b13","x":10.5325,"y":0.891},{"c":"b13","x":10.534,"y":1.26},{"c":"b13","x":10.5355,"y":1},{"c":"b13","x":10.537,"y":1.12},{"c":"b13","x":10.5385,"y":1.26},{"c":"b13","x":10.54,"y":1},
{"c":"b14","x":10.5048,"y":2.51e-4},{"c":"b14","x":10.505,"y":6.3e-4},{"c":"b14","x":10.5054,"y":0.00126},{"c":"b14","x":10.5058,"y":0.00158},{"c":"b14","x":10.5065,"y":0.00251},{"c":"b14","x":10.5073,"y":0.00316},{"c":"b14","x":10.508,"y":0.00398},{"c":"b14","x":10.509,"y":0.0063},{"c":"b14","x":10.51,"y":0.01},{"c":"b14","x":10.511,"y":0.0158},{"c":"b14","x":10.512,"y":0.0251},{"c":"b14","x":10.513,"y":0.0398},{"c":"b14","x":10.514,"y":0.05},{"c":"b14","x":10.515,"y":0.1},{"c":"b14","x":10.516,"y":0.126},{"c":"b14","x":10.5175,"y":0.2},{"c":"b14","x":10.519,"y":0.316},{"c":"b14","x":10.5205,"y":0.5},{"c":"b14","x":10.522,"y":0.708},{"c":"b14","x":10.5235,"y":1.12},{"c":"b14","x":10.525,"y":1},{"c":"b14","x":10.5265,"y":1.26},{"c":"b14","x":10.528,"y":1.41},{"c":"b14","x":10.5295,"y":1.12},{"c":"b14","x":10.531,"y":1.26},{"c":"b14","x":10.5325,"y":1.12},{"c":"b14","x":10.534,"y":0.794},{"c":"b14","x":10.5355,"y":1},{"c":"b14","x":10.537,"y":0.794},{"c":"b14","x":10.5385,"y":0.562},{"c":"b14","x":10.54,"y":0.5},
{"c":"b15","x":10.5048,"y":5e-4},{"c":"b15","x":10.505,"y":0.0063},{"c":"b15","x":10.5054,"y":0.0251},{"c":"b15","x":10.5058,"y":0.0398},{"c":"b15","x":10.5065,"y":0.0316},{"c":"b15","x":10.5073,"y":0.05},{"c":"b15","x":10.508,"y":0.071},{"c":"b15","x":10.509,"y":0.1},{"c":"b15","x":10.51,"y":0.141},{"c":"b15","x":10.511,"y":0.251},{"c":"b15","x":10.512,"y":0.316},{"c":"b15","x":10.513,"y":0.398},{"c":"b15","x":10.514,"y":0.5},{"c":"b15","x":10.515,"y":0.708},{"c":"b15","x":10.516,"y":0.794},{"c":"b15","x":10.5175,"y":1},{"c":"b15","x":10.519,"y":1.12},{"c":"b15","x":10.5205,"y":1.41},{"c":"b15","x":10.522,"y":1},{"c":"b15","x":10.5235,"y":1.26},{"c":"b15","x":10.525,"y":1.12},{"c":"b15","x":10.5265,"y":0.891},{"c":"b15","x":10.528,"y":1.26},{"c":"b15","x":10.5295,"y":1.41},{"c":"b15","x":10.531,"y":1},{"c":"b15","x":10.5325,"y":1.12},{"c":"b15","x":10.534,"y":1.26},{"c":"b15","x":10.5355,"y":1.58},{"c":"b15","x":10.537,"y":1.12},{"c":"b15","x":10.5385,"y":1.26},{"c":"b15","x":10.54,"y":1},
{"c":"b16","x":10.5048,"y":3.98e-5},{"c":"b16","x":10.505,"y":3.98e-4},{"c":"b16","x":10.5054,"y":0.00398},{"c":"b16","x":10.5058,"y":0.01},{"c":"b16","x":10.5065,"y":0.0158},{"c":"b16","x":10.5073,"y":0.0178},{"c":"b16","x":10.508,"y":0.0251},{"c":"b16","x":10.509,"y":0.0398},{"c":"b16","x":10.51,"y":0.063},{"c":"b16","x":10.511,"y":0.089},{"c":"b16","x":10.512,"y":0.126},{"c":"b16","x":10.513,"y":0.178},{"c":"b16","x":10.514,"y":0.282},{"c":"b16","x":10.515,"y":0.398},{"c":"b16","x":10.516,"y":0.5},{"c":"b16","x":10.5175,"y":0.708},{"c":"b16","x":10.519,"y":0.891},{"c":"b16","x":10.5205,"y":1.12},{"c":"b16","x":10.522,"y":1.26},{"c":"b16","x":10.5235,"y":1},{"c":"b16","x":10.525,"y":1.26},{"c":"b16","x":10.5265,"y":1.12},{"c":"b16","x":10.528,"y":1.41},{"c":"b16","x":10.5295,"y":1.26},{"c":"b16","x":10.531,"y":0.891},{"c":"b16","x":10.5325,"y":1.26},{"c":"b16","x":10.534,"y":1.12},{"c":"b16","x":10.5355,"y":1.26},{"c":"b16","x":10.537,"y":1},{"c":"b16","x":10.5385,"y":1.12},{"c":"b16","x":10.54,"y":1.41},
{"c":"b17","x":10.5048,"y":2.8e-5},{"c":"b17","x":10.505,"y":5e-5},{"c":"b17","x":10.5054,"y":1e-4},{"c":"b17","x":10.5058,"y":2.51e-4},{"c":"b17","x":10.5065,"y":3.98e-4},{"c":"b17","x":10.5073,"y":5e-4},{"c":"b17","x":10.508,"y":7.9e-4},{"c":"b17","x":10.509,"y":0.00126},{"c":"b17","x":10.51,"y":0.002},{"c":"b17","x":10.511,"y":0.00251},{"c":"b17","x":10.512,"y":0.005},{"c":"b17","x":10.513,"y":0.00316},{"c":"b17","x":10.514,"y":0.0079},{"c":"b17","x":10.515,"y":0.0126},{"c":"b17","x":10.516,"y":0.0251},{"c":"b17","x":10.5175,"y":0.05},{"c":"b17","x":10.519,"y":0.1},{"c":"b17","x":10.5205,"y":0.251},{"c":"b17","x":10.522,"y":0.447},{"c":"b17","x":10.5235,"y":0.631},{"c":"b17","x":10.525,"y":0.794},{"c":"b17","x":10.5265,"y":1},{"c":"b17","x":10.528,"y":1.26},{"c":"b17","x":10.5295,"y":0.891},{"c":"b17","x":10.531,"y":1.12},{"c":"b17","x":10.5325,"y":1.26},{"c":"b17","x":10.534,"y":1},{"c":"b17","x":10.5355,"y":1.26},{"c":"b17","x":10.537,"y":1.12},{"c":"b17","x":10.5385,"y":1},{"c":"b17","x":10.54,"y":1.26},
{"c":"b18","x":10.5048,"y":2e-4},{"c":"b18","x":10.505,"y":7.9e-4},{"c":"b18","x":10.5054,"y":0.00251},{"c":"b18","x":10.5058,"y":0.00316},{"c":"b18","x":10.5065,"y":0.005},{"c":"b18","x":10.5073,"y":0.0063},{"c":"b18","x":10.508,"y":0.0079},{"c":"b18","x":10.509,"y":0.0126},{"c":"b18","x":10.51,"y":0.0178},{"c":"b18","x":10.511,"y":0.0316},{"c":"b18","x":10.512,"y":0.0447},{"c":"b18","x":10.513,"y":0.063},{"c":"b18","x":10.514,"y":0.079},{"c":"b18","x":10.515,"y":0.126},{"c":"b18","x":10.516,"y":0.178},{"c":"b18","x":10.5175,"y":0.282},{"c":"b18","x":10.519,"y":0.447},{"c":"b18","x":10.5205,"y":0.631},{"c":"b18","x":10.522,"y":0.891},{"c":"b18","x":10.5235,"y":1.12},{"c":"b18","x":10.525,"y":1.41},{"c":"b18","x":10.5265,"y":1.12},{"c":"b18","x":10.528,"y":1.58},{"c":"b18","x":10.5295,"y":1.26},{"c":"b18","x":10.531,"y":1.12},{"c":"b18","x":10.5325,"y":1.41},{"c":"b18","x":10.534,"y":1.26},{"c":"b18","x":10.5355,"y":1},{"c":"b18","x":10.537,"y":1.26},{"c":"b18","x":10.5385,"y":1.41},{"c":"b18","x":10.54,"y":1.12},
{"c":"b19","x":10.5048,"y":7.9e-5},{"c":"b19","x":10.505,"y":2e-4},{"c":"b19","x":10.5054,"y":3.98e-4},{"c":"b19","x":10.5058,"y":6.3e-4},{"c":"b19","x":10.5065,"y":0.00158},{"c":"b19","x":10.5073,"y":0.002},{"c":"b19","x":10.508,"y":0.00316},{"c":"b19","x":10.509,"y":0.005},{"c":"b19","x":10.51,"y":0.0079},{"c":"b19","x":10.511,"y":0.01},{"c":"b19","x":10.512,"y":0.02},{"c":"b19","x":10.513,"y":0.0251},{"c":"b19","x":10.514,"y":0.0398},{"c":"b19","x":10.515,"y":0.063},{"c":"b19","x":10.516,"y":0.1},{"c":"b19","x":10.5175,"y":0.158},{"c":"b19","x":10.519,"y":0.251},{"c":"b19","x":10.5205,"y":0.355},{"c":"b19","x":10.522,"y":0.5},{"c":"b19","x":10.5235,"y":0.631},{"c":"b19","x":10.525,"y":0.794},{"c":"b19","x":10.5265,"y":0.708},{"c":"b19","x":10.528,"y":0.562},{"c":"b19","x":10.5295,"y":0.794},{"c":"b19","x":10.531,"y":0.631},{"c":"b19","x":10.5325,"y":0.5},{"c":"b19","x":10.534,"y":0.708},{"c":"b19","x":10.5355,"y":0.631},{"c":"b19","x":10.537,"y":0.5},{"c":"b19","x":10.5385,"y":0.447},{"c":"b19","x":10.54,"y":0.562}
],
"fa": [
{"g":"44","x":10.507,"y":0.03},{"g":"44","x":10.5158,"y":1.2},
{"g":"96","x":10.5071,"y":0.00055},{"g":"96","x":10.5198,"y":0.76},
{"g":"120","x":10.5071,"y":0.00011},{"g":"120","x":10.5268,"y":0.75}
],
"fb": [
{"g":"44","x":10.5061,"y":0.0706},{"g":"44","x":10.5099,"y":0.428},
{"g":"96","x":10.5061,"y":0.00438},{"g":"96","x":10.5158,"y":0.394},
{"g":"120","x":10.5061,"y":0.000665},{"g":"120","x":10.52,"y":0.428}
]
},
"vconcat": [
{
"width": 390, "height": 375,
"resolve": {"axis": {"x": "independent", "y": "independent"}},
"layer": [
{
"data": {"name": "a"},
"mark": {"type": "line", "color": "#5c5c5c", "strokeWidth": 1.1},
"encoding": {
"x": {"field": "x", "type": "quantitative", "scale": {"domain": [10.5025, 10.54], "nice": false, "zero": false},
"axis": {"orient": "bottom", "values": [10.51, 10.52, 10.53, 10.54], "format": ".2f", "ticks": false, "domain": false, "grid": false, "labelFontSize": 26.5, "labelPadding": 6, "labelFlush": false, "labelOverlap": false, "title": "magnetic diffusion time", "titleFontSize": 32, "titleFontWeight": "normal", "titleY": 64, "titleBaseline": "alphabetic"}},
"y": {"field": "y", "type": "quantitative", "scale": {"type": "log", "domain": [1e-6, 100], "nice": false},
"axis": {"orient": "left", "values": [1e-6, 1e-4, 0.01, 1, 100], "labelExpr": "'10'", "ticks": false, "domain": false, "grid": false, "labelFontSize": 25, "labelAlign": "left", "labelPadding": 56.5, "labelOffset": 1, "labelOverlap": false, "title": "magnetic errors", "titleFontSize": 32, "titleFontWeight": "normal", "titleX": -78, "titleBaseline": "alphabetic"}},
"detail": {"field": "c", "type": "nominal"}
}
},
{
"data": {"name": "fa"},
"mark": {"type": "line", "strokeWidth": 3.5, "strokeDash": [14, 3]},
"encoding": {
"x": {"field": "x", "type": "quantitative", "scale": {"domain": [10.5025, 10.54], "nice": false, "zero": false},
"axis": {"orient": "top", "values": [10.51, 10.52, 10.53], "labels": false, "domain": false, "grid": false, "tickSize": 5, "offset": -5, "title": null}},
"y": {"field": "y", "type": "quantitative", "scale": {"type": "log", "domain": [1e-6, 100], "nice": false},
"axis": {"orient": "right", "values": [1e-4, 0.01, 1], "labels": false, "domain": false, "grid": false, "tickSize": 5, "offset": -5, "title": null}},
"color": {"field": "g", "type": "nominal", "scale": {"domain": ["44", "96", "120"], "range": ["#e8352b", "#1f8c44", "#2a3a96"]}, "legend": null}
}
},
{
"data": {"values": [{"t": "a."}]},
"mark": {"type": "text", "fontSize": 44, "align": "left", "baseline": "alphabetic", "color": "#111111"},
"encoding": {
"x": {"datum": 10.50486, "type": "quantitative", "scale": {"domain": [10.5025, 10.54], "nice": false, "zero": false},
"axis": {"orient": "bottom", "values": [10.51, 10.52, 10.53], "labels": false, "domain": false, "grid": false, "tickSize": 5, "offset": -5, "title": null}},
"y": {"datum": 6.6, "type": "quantitative", "scale": {"type": "log", "domain": [1e-6, 100], "nice": false},
"axis": {"orient": "left", "values": [1e-6, 1e-4, 0.01, 1, 100], "labelExpr": "replace(format(round(log(datum.value)/LN10),'d'),'-','−')", "ticks": false, "domain": false, "grid": false, "labelFontSize": 16, "labelAlign": "left", "labelPadding": 28, "labelOffset": -13, "labelOverlap": false, "title": null}},
"text": {"field": "t"}
}
},
{
"data": {"values": [{"lam": "λ", "sub": "44", "val": "= 422±19"}]},
"encoding": {
"x": {"datum": 10.52524, "type": "quantitative", "scale": {"domain": [10.5025, 10.54], "nice": false, "zero": false}, "axis": null},
"y": {"datum": 0.00074, "type": "quantitative", "scale": {"type": "log", "domain": [1e-6, 100], "nice": false},
"axis": {"orient": "left", "values": [1e-4, 0.01, 1], "labels": false, "domain": false, "grid": false, "tickSize": 5, "offset": -5, "title": null}}
},
"layer": [
{"mark": {"type": "text", "align": "right", "baseline": "alphabetic", "fontSize": 26.5, "dx": -26, "color": "#cf2a2e"}, "encoding": {"text": {"field": "lam"}}},
{"mark": {"type": "text", "align": "right", "baseline": "alphabetic", "fontSize": 22, "dy": 6.5, "color": "#cf2a2e"}, "encoding": {"text": {"field": "sub"}}},
{"mark": {"type": "text", "align": "left", "baseline": "alphabetic", "fontSize": 26.5, "dx": 10, "color": "#cf2a2e"}, "encoding": {"text": {"field": "val"}}}
]
},
{
"data": {"values": [{"lam": "λ", "sub": "96", "val": "= 566±15"}]},
"encoding": {
"x": {"datum": 10.52524, "type": "quantitative", "scale": {"domain": [10.5025, 10.54], "nice": false, "zero": false}, "axis": null},
"y": {"datum": 0.000094, "type": "quantitative", "scale": {"type": "log", "domain": [1e-6, 100], "nice": false}, "axis": null}
},
"layer": [
{"mark": {"type": "text", "align": "right", "baseline": "alphabetic", "fontSize": 26.5, "dx": -26, "color": "#1d7b41"}, "encoding": {"text": {"field": "lam"}}},
{"mark": {"type": "text", "align": "right", "baseline": "alphabetic", "fontSize": 22, "dy": 6.5, "color": "#1d7b41"}, "encoding": {"text": {"field": "sub"}}},
{"mark": {"type": "text", "align": "left", "baseline": "alphabetic", "fontSize": 26.5, "dx": 10, "color": "#1d7b41"}, "encoding": {"text": {"field": "val"}}}
]
},
{
"data": {"values": [{"lam": "λ", "sub": "120", "val": "= 448±7"}]},
"encoding": {
"x": {"datum": 10.52524, "type": "quantitative", "scale": {"domain": [10.5025, 10.54], "nice": false, "zero": false}, "axis": null},
"y": {"datum": 0.0000142, "type": "quantitative", "scale": {"type": "log", "domain": [1e-6, 100], "nice": false}, "axis": null}
},
"layer": [
{"mark": {"type": "text", "align": "right", "baseline": "alphabetic", "fontSize": 26.5, "dx": -38, "color": "#2d3a8f"}, "encoding": {"text": {"field": "lam"}}},
{"mark": {"type": "text", "align": "right", "baseline": "alphabetic", "fontSize": 22, "dy": 6.5, "color": "#2d3a8f"}, "encoding": {"text": {"field": "sub"}}},
{"mark": {"type": "text", "align": "left", "baseline": "alphabetic", "fontSize": 26.5, "dx": 10, "color": "#2d3a8f"}, "encoding": {"text": {"field": "val"}}}
]
}
]
},
{
"width": 390, "height": 375,
"resolve": {"axis": {"x": "independent", "y": "independent"}},
"layer": [
{
"data": {"name": "b"},
"mark": {"type": "line", "color": "#5c5c5c", "strokeWidth": 1.1},
"encoding": {
"x": {"field": "x", "type": "quantitative", "scale": {"domain": [10.5025, 10.54], "nice": false, "zero": false},
"axis": {"orient": "bottom", "values": [10.51, 10.52, 10.53, 10.54], "format": ".2f", "ticks": false, "domain": false, "grid": false, "labelFontSize": 26.5, "labelPadding": 6, "labelFlush": false, "labelOverlap": false, "title": "magnetic diffusion time", "titleFontSize": 32, "titleFontWeight": "normal", "titleY": 64, "titleBaseline": "alphabetic"}},
"y": {"field": "y", "type": "quantitative", "scale": {"type": "log", "domain": [1e-6, 100], "nice": false},
"axis": {"orient": "left", "values": [1e-6, 1e-4, 0.01, 1, 100], "labelExpr": "'10'", "ticks": false, "domain": false, "grid": false, "labelFontSize": 25, "labelAlign": "left", "labelPadding": 56.5, "labelOffset": 1, "labelOverlap": false, "title": "magnetic errors", "titleFontSize": 32, "titleFontWeight": "normal", "titleX": -78, "titleBaseline": "alphabetic"}},
"detail": {"field": "c", "type": "nominal"}
}
},
{
"data": {"name": "fb"},
"mark": {"type": "line", "strokeWidth": 3.5, "strokeDash": [14, 3]},
"encoding": {
"x": {"field": "x", "type": "quantitative", "scale": {"domain": [10.5025, 10.54], "nice": false, "zero": false},
"axis": {"orient": "top", "values": [10.51, 10.52, 10.53], "labels": false, "domain": false, "grid": false, "tickSize": 5, "offset": -5, "title": null}},
"y": {"field": "y", "type": "quantitative", "scale": {"type": "log", "domain": [1e-6, 100], "nice": false},
"axis": {"orient": "right", "values": [1e-4, 0.01, 1], "labels": false, "domain": false, "grid": false, "tickSize": 5, "offset": -5, "title": null}},
"color": {"field": "g", "type": "nominal", "scale": {"domain": ["44", "96", "120"], "range": ["#e8352b", "#1f8c44", "#2a3a96"]}, "legend": null}
}
},
{
"data": {"values": [{"t": "b."}]},
"mark": {"type": "text", "fontSize": 44, "align": "left", "baseline": "alphabetic", "color": "#111111"},
"encoding": {
"x": {"datum": 10.50486, "type": "quantitative", "scale": {"domain": [10.5025, 10.54], "nice": false, "zero": false},
"axis": {"orient": "bottom", "values": [10.51, 10.52, 10.53], "labels": false, "domain": false, "grid": false, "tickSize": 5, "offset": -5, "title": null}},
"y": {"datum": 6.6, "type": "quantitative", "scale": {"type": "log", "domain": [1e-6, 100], "nice": false},
"axis": {"orient": "left", "values": [1e-6, 1e-4, 0.01, 1, 100], "labelExpr": "replace(format(round(log(datum.value)/LN10),'d'),'-','−')", "ticks": false, "domain": false, "grid": false, "labelFontSize": 16, "labelAlign": "left", "labelPadding": 28, "labelOffset": -13, "labelOverlap": false, "title": null}},
"text": {"field": "t"}
}
},
{
"data": {"values": [{"lam": "λ", "sub": "44", "val": "= 484±110"}]},
"encoding": {
"x": {"datum": 10.52415, "type": "quantitative", "scale": {"domain": [10.5025, 10.54], "nice": false, "zero": false}, "axis": null},
"y": {"datum": 0.00074, "type": "quantitative", "scale": {"type": "log", "domain": [1e-6, 100], "nice": false},
"axis": {"orient": "left", "values": [1e-4, 0.01, 1], "labels": false, "domain": false, "grid": false, "tickSize": 5, "offset": -5, "title": null}}
},
"layer": [
{"mark": {"type": "text", "align": "right", "baseline": "alphabetic", "fontSize": 26.5, "dx": -26, "color": "#cf2a2e"}, "encoding": {"text": {"field": "lam"}}},
{"mark": {"type": "text", "align": "right", "baseline": "alphabetic", "fontSize": 22, "dy": 6.5, "color": "#cf2a2e"}, "encoding": {"text": {"field": "sub"}}},
{"mark": {"type": "text", "align": "left", "baseline": "alphabetic", "fontSize": 26.5, "dx": 10, "color": "#cf2a2e"}, "encoding": {"text": {"field": "val"}}}
]
},
{
"data": {"values": [{"lam": "λ", "sub": "96", "val": "= 464±21"}]},
"encoding": {
"x": {"datum": 10.52415, "type": "quantitative", "scale": {"domain": [10.5025, 10.54], "nice": false, "zero": false}, "axis": null},
"y": {"datum": 0.000094, "type": "quantitative", "scale": {"type": "log", "domain": [1e-6, 100], "nice": false}, "axis": null}
},
"layer": [
{"mark": {"type": "text", "align": "right", "baseline": "alphabetic", "fontSize": 26.5, "dx": -26, "color": "#1d7b41"}, "encoding": {"text": {"field": "lam"}}},
{"mark": {"type": "text", "align": "right", "baseline": "alphabetic", "fontSize": 22, "dy": 6.5, "color": "#1d7b41"}, "encoding": {"text": {"field": "sub"}}},
{"mark": {"type": "text", "align": "left", "baseline": "alphabetic", "fontSize": 26.5, "dx": 10, "color": "#1d7b41"}, "encoding": {"text": {"field": "val"}}}
]
},
{
"data": {"values": [{"lam": "λ", "sub": "120", "val": "= 473±16"}]},
"encoding": {
"x": {"datum": 10.52415, "type": "quantitative", "scale": {"domain": [10.5025, 10.54], "nice": false, "zero": false}, "axis": null},
"y": {"datum": 0.0000142, "type": "quantitative", "scale": {"type": "log", "domain": [1e-6, 100], "nice": false}, "axis": null}
},
"layer": [
{"mark": {"type": "text", "align": "right", "baseline": "alphabetic", "fontSize": 26.5, "dx": -38, "color": "#2d3a8f"}, "encoding": {"text": {"field": "lam"}}},
{"mark": {"type": "text", "align": "right", "baseline": "alphabetic", "fontSize": 22, "dy": 6.5, "color": "#2d3a8f"}, "encoding": {"text": {"field": "sub"}}},
{"mark": {"type": "text", "align": "left", "baseline": "alphabetic", "fontSize": 26.5, "dx": 10, "color": "#2d3a8f"}, "encoding": {"text": {"field": "val"}}}
]
}
]
}
]
}
